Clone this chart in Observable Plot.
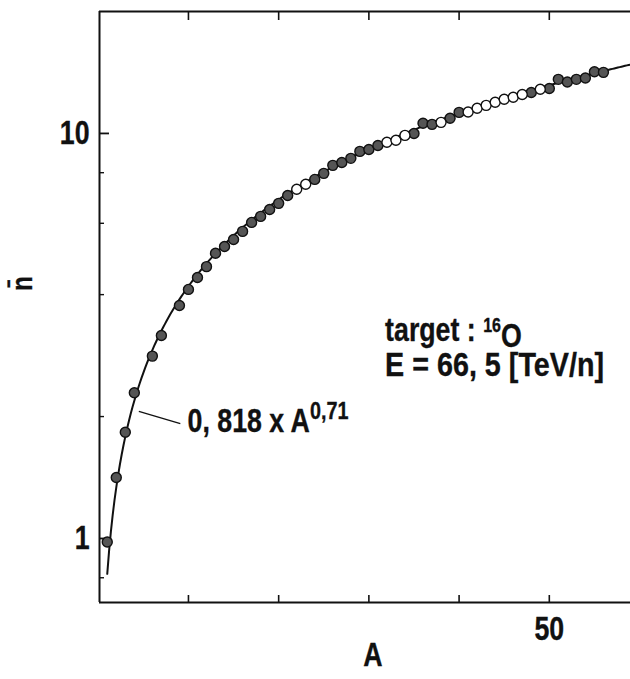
<!DOCTYPE html>
<html>
<head>
<meta charset="utf-8">
<script src="https://cdn.jsdelivr.net/npm/d3@7"></script>
<script src="https://cdn.jsdelivr.net/npm/@observablehq/plot@0.6"></script>
<style>
  body { margin: 0; background: #fff; }
  #chart svg { display: block; }
  #chart svg text { stroke: #111; stroke-width: 0.35px; }
</style>
</head>
<body>
<div id="chart"></div>
<script>
// Mean multiplicity n̄ versus projectile mass number A (target 16O, E = 66.5 TeV/n)
const massNumbers = [1, 2, 3, 4, 6, 7, 9, 10, 11, 12, 13, 14, 15, 16, 17, 18, 19, 20,
  21, 22, 23, 24, 25, 26, 27, 28, 29, 30, 31, 32, 33, 34, 35, 36, 37, 38, 39, 40,
  41, 42, 43, 44, 45, 46, 47, 48, 49, 50, 51, 52, 53, 54, 55, 56];
const meanMultiplicity = [0.98, 1.415, 1.83, 2.29, 2.82, 3.17, 3.76, 4.12, 4.41, 4.69,
  5.06, 5.26, 5.47, 5.73, 6.03, 6.24, 6.49, 6.72, 7.03, 7.28, 7.49, 7.70, 7.97, 8.34,
  8.48, 8.68, 9.03, 9.13, 9.34, 9.51, 9.62, 9.89, 10.0, 10.6, 10.53, 10.65, 10.9, 11.27,
  11.3, 11.54, 11.73, 11.94, 12.14, 12.28, 12.48, 12.62, 12.85, 12.91, 13.6, 13.4, 13.6,
  13.7, 14.2, 14.15];
// mass numbers drawn with open markers
const openMassNumbers = [22, 23, 32, 33, 34, 38, 41, 42, 43, 44, 45, 46, 47, 49];

// power-law fit n̄ = 0.818 · A^0.71
const fitCoefficient = 0.818;
const fitExponent = 0.71;
const fitRange = [1, 59];

const xDomain = [0.14, 59];
const yDomain = [0.695, 20];
const xTicks = [10, 20, 30, 40, 50];
const xTickLabels = ["", "", "", "", "50"];
const yMajorTicks = [1, 10];
const yMinorTicks = [0.8, 2, 4, 6, 8];

const fitLabel = "0, 818 x A";
const targetLabel = "target : ";
const energyLabel = "E = 66, 5 [TeV/n]";

const points = massNumbers.map((A, i) => ({A, n: meanMultiplicity[i], open: openMassNumbers.includes(A)}));
const fitCurve = d3.range(fitRange[0], fitRange[1] + 0.001, 0.2)
  .map(A => ({A, n: fitCoefficient * Math.pow(A, fitExponent)}));

const font = "'Liberation Sans', Arial, sans-serif";
const condense = 0.81; // horizontal squeeze for a condensed bold look
const energyCondense = 0.87; // the energy line is set a little wider
const labelSize = 33;

const chart = Plot.plot({
  width: 630,
  height: 679,
  marginLeft: 99,
  marginRight: 0,
  marginTop: 11,
  marginBottom: 77,
  style: {fontFamily: font, fontWeight: "bold", color: "#111", background: "#fff", overflow: "visible"},
  x: {domain: xDomain, axis: null},
  y: {type: "log", domain: yDomain, axis: null},
  marks: [
    // frame: left, bottom and top edges
    Plot.ruleX([xDomain[0]], {stroke: "#111", strokeWidth: 2}),
    Plot.ruleY([yDomain[0]], {stroke: "#111", strokeWidth: 2}),
    Plot.ruleY([yDomain[1]], {stroke: "#111", strokeWidth: 2}),
    // inward ticks
    Plot.axisX({anchor: "bottom", ticks: xTicks, tickSize: -7, tickPadding: 21,
      tickFormat: d => xTickLabels[xTicks.indexOf(d)], fontSize: labelSize, label: null,
      stroke: "#111", strokeWidth: 1.6}),
    Plot.axisX({anchor: "top", ticks: xTicks, tickSize: -8, tickFormat: () => "", label: null,
      stroke: "#111", strokeWidth: 1.6}),
    Plot.axisY({anchor: "left", ticks: yMajorTicks, tickSize: -10, tickPadding: 20,
      tickFormat: d => String(d), fontSize: labelSize, label: null, stroke: "#111", strokeWidth: 1.8}),
    Plot.axisY({anchor: "left", ticks: yMinorTicks, tickSize: -5, tickFormat: () => "", label: null,
      stroke: "#111", strokeWidth: 1.4}),
    // axis titles
    Plot.text(["A"], {frameAnchor: "bottom", dx: 8, dy: 63, fontSize: labelSize, fill: "#111"}),
    Plot.text(["n\u0304"], {frameAnchor: "left", dx: -77, dy: -16, rotate: -90, fontSize: 30, fill: "#111"}),
    // fit curve and data
    Plot.line(fitCurve, {x: "A", y: "n", stroke: "#111", strokeWidth: 2}),
    Plot.dot(points.filter(d => !d.open), {x: "A", y: "n", r: 5, fill: "#555", stroke: "#111", strokeWidth: 1.4}),
    Plot.dot(points.filter(d => d.open), {x: "A", y: "n", r: 5, fill: "#fff", stroke: "#111", strokeWidth: 1.4}),
    // fit label with leader line
    Plot.link([{x1: 4.5, y1: 2.06, x2: 9.1, y2: 1.92}], {x1: "x1", y1: "y1", x2: "x2", y2: "y2", stroke: "#111", strokeWidth: 1.3}),
    Plot.text([{A: 9.9, n: 1.945}], {x: "A", y: "n", text: () => fitLabel, textAnchor: "start", fontSize: labelSize, fill: "#111"}),
    // beam annotation
    Plot.text([{A: 31.8, n: 3.26}], {x: "A", y: "n", text: () => targetLabel, textAnchor: "start", fontSize: labelSize, fill: "#111"}),
    Plot.text([{A: 31.8, n: 2.676}], {x: "A", y: "n", text: () => energyLabel, textAnchor: "start", fontSize: labelSize, fill: "#111"})
  ]
});

const svg = d3.select(chart);

// superscripts inside the annotation labels
svg.selectAll("text").filter(function() { return this.textContent === fitLabel; })
  .append("tspan").attr("dy", "-0.52em").attr("font-size", "0.74em").text("0,71");
svg.selectAll("text").filter(function() { return this.textContent === targetLabel; })
  .each(function() {
    const t = d3.select(this);
    t.append("tspan").attr("dy", "-0.45em").attr("font-size", "0.6em").text("16");
    t.append("tspan").attr("dy", "0.45em").text("O");
  });

document.getElementById("chart").appendChild(chart);

// squeeze every label horizontally for a condensed bold look
svg.selectAll("text").each(function() {
  const length = this.getComputedTextLength();
  if (length > 0) {
    const k = this.textContent === energyLabel ? energyCondense : condense;
    this.setAttribute("textLength", (length * k).toFixed(2));
    this.setAttribute("lengthAdjust", "spacingAndGlyphs");
  }
});
</script>
</body>
</html>
